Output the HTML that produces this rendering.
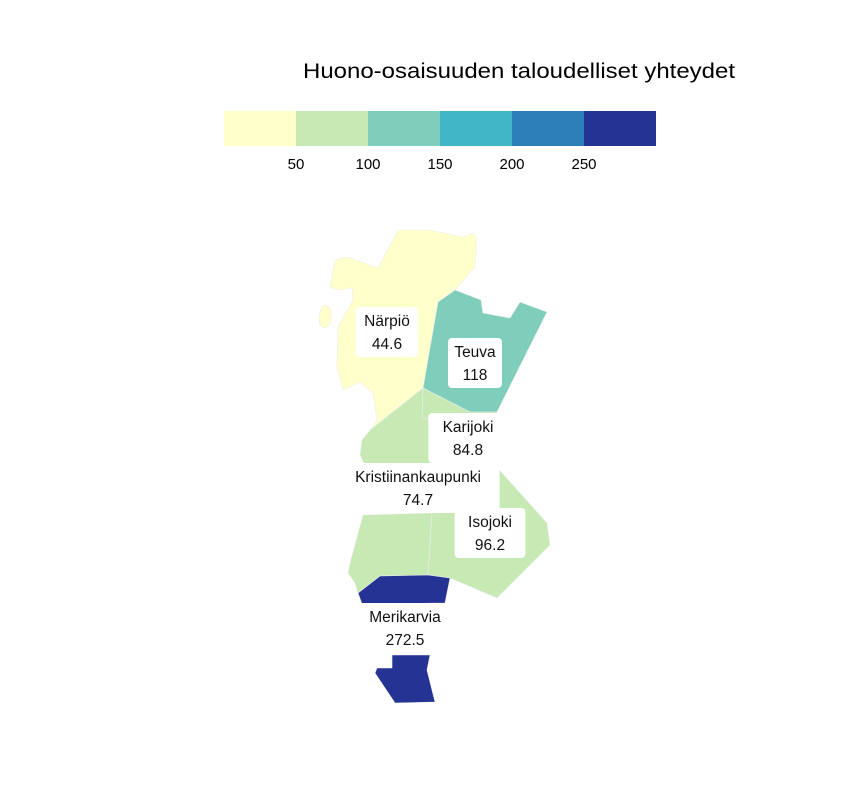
<!DOCTYPE html>
<html><head><meta charset="utf-8"><style>
body{margin:0;background:#fff;}
svg{display:block;font-family:"Liberation Sans",sans-serif;}
</style></head><body>
<svg width="864" height="792" viewBox="0 0 864 792">
<text x="303" y="78" font-size="21" textLength="432" lengthAdjust="spacingAndGlyphs" fill="#000">Huono-osaisuuden taloudelliset yhteydet</text>
<g id="legend"></g>
<g id="map"></g>
<g id="labels"></g>
</svg>
<script>
const breaks = [50, 100, 150, 200, 250];
const colors = ["#ffffcc","#c7e9b4","#7fcdbb","#41b6c4","#2c7fb8","#253494"];
const regionNames = ["Närpiö","Teuva","Karijoki","Kristiinankaupunki","Isojoki","Merikarvia"];
const regionValues = [44.6, 118, 84.8, 74.7, 96.2, 272.5];
const shapes = {
 "Närpiö":["M398,230 L430,230 L463,237 L473,233 L477,240 L475,267 L455,290 L438,302 L423,388 L370,430 L377,420 L373,393 L360,382 L343,390 L337,367 L338,327 L353,300 L352,288 L338,290 L330,287 L335,260 L347,257 L378,268 Z",
   "M325,305 C331,305 332,312 331,320 C330,328 324,330 320,325 C318,318 320,306 325,305 Z"],
 "Teuva":["M455,290 L481,300 L483,313 L510,318 L520,302 L547,312 L497,412 L470,412 L423,388 L438,302 Z"],
 "Karijoki":["M423,388 L470,412 L497,412 L497,465 L435,465 L433,420 L422,418 Z"],
 "Kristiinankaupunki":["M423,388 L422,418 L433,420 L435,465 L365,465 L360,455 L362,440 L370,430 Z",
   "M363,515 L432,513 L428,575 L380,576 L358,593 L355,583 L348,573 L350,563 Z"],
 "Isojoki":["M495,465 L547,523 L550,545 L497,598 L450,578 L428,575 L432,513 L458,509 L495,509 Z"],
 "Merikarvia":["M380,576 L428,575 L450,578 L445,603 L362,604 L358,593 Z",
   "M392,655 L430,655 L427,670 L435,702 L395,703 L375,673 L377,668 L392,668 Z"]
};
const labelX = [387, 475, 468, 418, 490, 405];
const labelY = [321, 352, 427, 477, 522, 617];
const NS = "http://www.w3.org/2000/svg";
function colorFor(v){let i=0;while(i<breaks.length&&v>=breaks[i])i++;return colors[i];}
function xLegend(v){return 224+(v/50)*72;}
const lg=document.getElementById('legend');
colors.forEach((c,i)=>{const r=document.createElementNS(NS,'rect');
r.setAttribute('x',224+i*72);r.setAttribute('y',111);r.setAttribute('width',72);r.setAttribute('height',35);r.setAttribute('fill',c);


lg.appendChild(r);});
breaks.forEach(b=>{const t=document.createElementNS(NS,'text');
t.setAttribute('x',xLegend(b));t.setAttribute('y',169);t.setAttribute('text-anchor','middle');t.setAttribute('font-size','15');t.textContent=b;


lg.appendChild(t);});
const mp=document.getElementById('map'), lb=document.getElementById('labels');
regionNames.forEach((n,i)=>{
 shapes[n].forEach(d=>{const p=document.createElementNS(NS,'path');p.setAttribute('d',d);p.setAttribute('fill',colorFor(regionValues[i]));
 p.setAttribute('stroke','#eee');p.setAttribute('stroke-width','0.6');
 
 
 mp.appendChild(p);});
 const g=document.createElementNS(NS,'g');
 
 
 const l1=n, l2=String(regionValues[i]);
 const w=Math.max(l1.length,l2.length)*8.4+12;
 const r=document.createElementNS(NS,'rect');
 r.setAttribute('x',labelX[i]-w/2);r.setAttribute('y',labelY[i]-14);r.setAttribute('width',w);r.setAttribute('height',50);r.setAttribute('rx',4);r.setAttribute('fill','#fff');
 g.appendChild(r);
 [l1,l2].forEach((s,k)=>{const t=document.createElementNS(NS,'text');t.setAttribute('x',labelX[i]);t.setAttribute('y',labelY[i]+5+k*23);
 t.setAttribute('text-anchor','middle');t.setAttribute('font-size','15.5');t.setAttribute('fill','#111');t.textContent=s;g.appendChild(t);});
 lb.appendChild(g);
});
</script>
</body></html>
